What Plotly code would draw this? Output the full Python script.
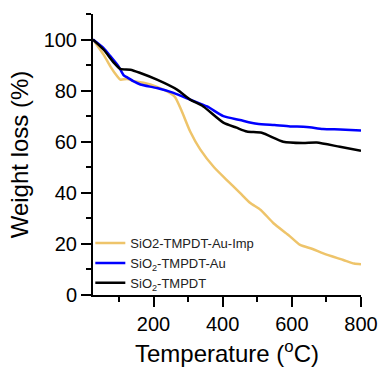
import plotly.graph_objects as go

# Data
temp_imp = [25, 56, 75, 95, 104, 124, 143, 171, 210, 245, 262, 280, 306, 335, 375, 412, 450, 480, 510, 547, 590, 624, 660, 691, 749, 780, 800]
wt_imp = [100, 94, 89.5, 85.6, 84.3, 84.6, 83.7, 83.1, 81.5, 79.3, 77.5, 72.5, 64, 57, 50, 45, 40, 36, 33.3, 28.1, 23.5, 19.6, 18, 16.3, 13.7, 12.3, 12]

temp_au = [25, 55, 75, 99, 114, 124, 143, 162, 210, 258, 306, 355, 402, 450, 499, 550, 595, 643, 690, 740, 800]
wt_au = [100, 96.7, 93.5, 89.5, 86, 85.2, 83.6, 82.4, 81, 79.1, 76.5, 73.8, 70, 68.5, 67, 66.5, 66, 65.8, 65, 64.8, 64.4]

temp_bare = [25, 56, 85, 104, 133, 160, 210, 268, 306, 344, 402, 440, 470, 513, 575, 632, 672, 739, 800]
wt_bare = [100, 96, 91, 88.5, 88.2, 87, 84.3, 80.4, 76.5, 73.8, 67.5, 65.5, 64, 63.5, 60, 59.5, 59.7, 58, 56.5]

names = ["SiO2-TMPDT-Au-Imp", "SiO<sub>2</sub>-TMPDT-Au", "SiO<sub>2</sub>-TMPDT"]
colors = ["#EEC46A", "#0000FF", "#000000"]

x_ticks = [200, 400, 600, 800]
y_ticks = [0, 20, 40, 60, 80, 100]

fig = go.Figure()
for t, w, n, c in zip([temp_imp, temp_au, temp_bare], [wt_imp, wt_au, wt_bare], names, colors):
    fig.add_trace(go.Scatter(x=t, y=w, name=n, mode="lines",
                             line=dict(color=c, width=2.5, shape="spline", smoothing=0.6)))

font_family = "Liberation Sans, Arial, sans-serif"
axis_common = dict(showline=True, linecolor="black", linewidth=2, ticks="outside",
                   ticklen=10, tickwidth=2, tickcolor="black", showgrid=False, zeroline=False,
                   tickfont=dict(size=20, color="black", family=font_family),
                   mirror=False, automargin=False)

fig.update_xaxes(range=[25, 800], tickvals=x_ticks,
                 minor=dict(dtick=100, tick0=0, ticks="outside", ticklen=5, tickwidth=2, tickcolor="black"),
                 title=dict(text="Temperature (<sup>o</sup>C)", font=dict(size=24, color="black", family=font_family)),
                 **axis_common)
fig.update_yaxes(range=[0, 110], tickvals=y_ticks,
                 minor=dict(dtick=10, tick0=0, ticks="outside", ticklen=5, tickwidth=2, tickcolor="black"),
                 title=dict(text="Weight loss (%)", font=dict(size=24, color="black", family=font_family),
                            standoff=8),
                 **axis_common)

fig.update_layout(
    width=379, height=367,
    margin=dict(l=93, r=18, t=14, b=72),
    plot_bgcolor="white", paper_bgcolor="white",
    font=dict(family=font_family, color="black"),
    legend=dict(x=-0.01, y=0.238, xanchor="left", yanchor="top",
                bgcolor="rgba(0,0,0,0)", font=dict(size=13, color="#222222"),
                tracegroupgap=0, itemwidth=30),
    showlegend=True,
)

fig.write_html("out.html", config={"displayModeBar": False},
               post_script="document.body.style.margin='0';document.body.style.overflow='hidden';")
